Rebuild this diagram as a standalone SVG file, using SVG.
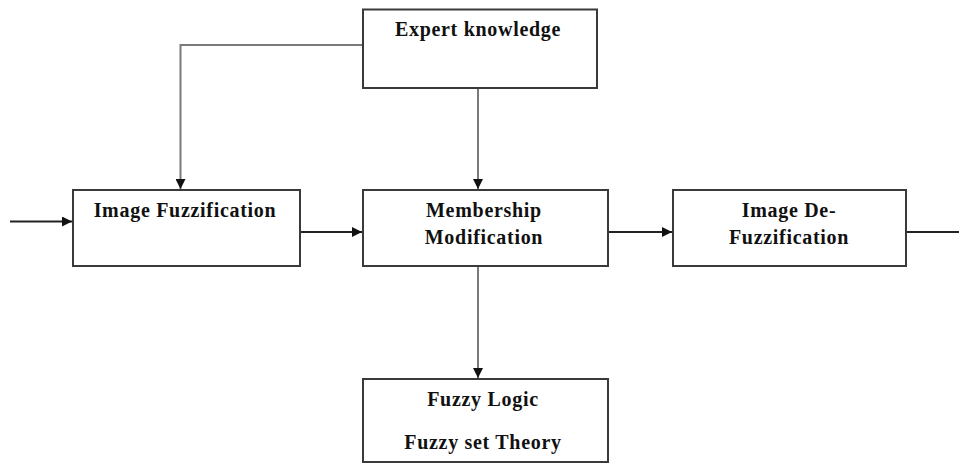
<svg xmlns="http://www.w3.org/2000/svg" width="959" height="466" viewBox="0 0 959 466">
<style>
.box{fill:#fff;stroke:#3a3a3a;stroke-width:2}
.t{font-family:"Liberation Serif","Times New Roman",serif;font-weight:bold;font-size:20px;letter-spacing:0.7px;fill:#111;text-anchor:middle}
.c{fill:none;stroke-width:2}
.g{stroke:#7a7a7a}
.k{stroke:#222}
</style>
<defs>
<marker id="ah" viewBox="0 0 10 10" refX="10" refY="5" markerWidth="10" markerHeight="10" markerUnits="userSpaceOnUse" orient="auto">
<path d="M0,0 L10,5 L0,10 z" fill="#111"/>
</marker>
</defs>
<g id="connectors">
<polyline class="c g" points="363,45 180.5,45 180.5,189" marker-end="url(#ah)"/>
<line class="c g" x1="478" y1="88" x2="478" y2="189" marker-end="url(#ah)"/>
<line class="c g" x1="478" y1="266" x2="478" y2="378" marker-end="url(#ah)"/>
<line class="c k" x1="10" y1="221.5" x2="72" y2="221.5" marker-end="url(#ah)"/>
<line class="c k" x1="300" y1="232" x2="362" y2="232" marker-end="url(#ah)"/>
<line class="c k" x1="608" y1="232" x2="672" y2="232" marker-end="url(#ah)"/>
<line class="c k" x1="906" y1="232" x2="959" y2="232"/>
</g>
<g id="expert">
<rect class="box" x="363" y="9.5" width="234" height="78.5"/>
<text class="t" x="478" y="36">Expert knowledge</text>
</g>
<g id="fuzzification">
<rect class="box" x="73" y="190" width="227" height="76"/>
<text class="t" x="185" y="217">Image Fuzzification</text>
</g>
<g id="membership">
<rect class="box" x="363" y="190" width="245" height="76"/>
<text class="t" x="484" y="217">Membership</text>
<text class="t" x="484" y="244">Modification</text>
</g>
<g id="defuzzification">
<rect class="box" x="673" y="190" width="233" height="76"/>
<text class="t" x="789" y="217">Image De-</text>
<text class="t" x="789" y="244">Fuzzification</text>
</g>
<g id="fuzzylogic">
<rect class="box" x="363" y="379" width="245" height="83"/>
<text class="t" x="483" y="406">Fuzzy Logic</text>
<text class="t" x="483" y="449">Fuzzy set Theory</text>
</g>
</svg>
